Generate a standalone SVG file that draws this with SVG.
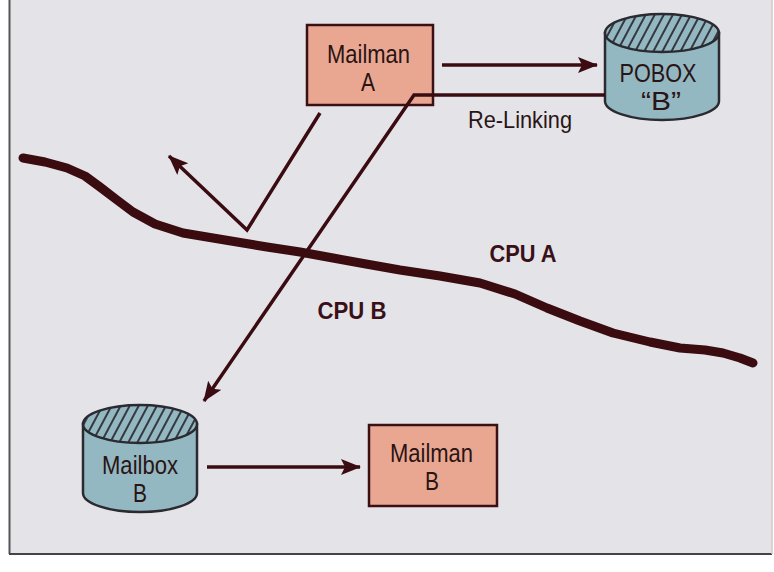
<svg xmlns="http://www.w3.org/2000/svg" width="774" height="572" viewBox="0 0 774 572">
<defs>
<style>
.lbl{font-family:"Liberation Sans",Arial,sans-serif;font-size:25px;fill:#2a1414;text-anchor:middle}
.cpu{font-family:"Liberation Sans",Arial,sans-serif;font-size:23px;font-weight:bold;fill:#3a1018;text-anchor:middle}
.box{fill:#e9a792;stroke:#3a1014;stroke-width:2.5}
.cyl{fill:#93b8c2;stroke:#2a2a30;stroke-width:2.5}
.hat{fill:url(#hatch);stroke:#2a2a30;stroke-width:2.5}
.con{fill:none;stroke:#3a0c12;stroke-width:3.5;stroke-linejoin:miter}
</style>
<pattern id="hatch" patternUnits="userSpaceOnUse" width="8" height="8" patternTransform="rotate(28)">
<rect width="8" height="8" fill="#93b8c2"/>
<line x1="1" y1="0" x2="1" y2="8" stroke="#2a2a30" stroke-width="1.8"/>
</pattern>
<marker id="ah" markerUnits="userSpaceOnUse" markerWidth="22" markerHeight="18" refX="19" refY="8" orient="auto">
<path d="M0,0 L20,8 L0,16 L4,8 Z" fill="#3a0c12"/>
</marker>
</defs>
<rect x="0" y="0" width="774" height="572" fill="#ffffff"/>
<rect x="9" y="0" width="763" height="554" fill="#e3e3e8"/>
<line x1="9.5" y1="0" x2="9.5" y2="554" stroke="#555" stroke-width="2"/>
<line x1="9" y1="554" x2="772" y2="554" stroke="#444" stroke-width="2"/>
<line x1="772" y1="0" x2="772" y2="554" stroke="#d8c4c4" stroke-width="1.5"/>

<g id="divider">
<polyline points="23,158 45,162 67,168 85,176 100,187 117,200 133,212 155,224 183,233 225,240 267,247 300,252 333,258 366,264 400,270 440,276 480,283 515,294 547,308 580,321 613,333 650,342 680,348 705,350 723,353 740,358 753,363" fill="none" stroke="#3a0c10" stroke-width="9" stroke-linecap="round" stroke-linejoin="round"/>
</g>

<g id="mailmanA">
<rect class="box" x="307" y="25" width="126" height="80"/>
<text class="lbl" x="368.5" y="63" textLength="83" lengthAdjust="spacingAndGlyphs">Mailman</text>
<text class="lbl" x="368" y="91" textLength="14" lengthAdjust="spacingAndGlyphs">A</text>
</g>

<g id="poboxB">
<path class="cyl" d="M605,33 L605,101 A57,19 0 0 0 719,101 L719,33 Z"/>
<ellipse class="hat" cx="662" cy="33" rx="57" ry="19"/>
<text class="lbl" x="658" y="82" textLength="77" lengthAdjust="spacingAndGlyphs">POBOX</text>
<text class="lbl" x="661" y="110" textLength="40" lengthAdjust="spacingAndGlyphs">“B”</text>
</g>

<text class="lbl" x="520" y="128" textLength="104" lengthAdjust="spacingAndGlyphs" style="font-size:24px">Re-Linking</text>

<g id="cpuLabels">
<text class="cpu" x="523" y="262" textLength="67" lengthAdjust="spacingAndGlyphs">CPU  A</text>
<text class="cpu" x="352" y="319" textLength="69" lengthAdjust="spacingAndGlyphs">CPU  B</text>
</g>

<g id="mailboxB">
<path class="cyl" d="M83,424 L83,493 A57,19 0 0 0 197,493 L197,424 Z"/>
<ellipse class="hat" cx="140" cy="424" rx="57" ry="19"/>
<text class="lbl" x="140" y="474" textLength="76" lengthAdjust="spacingAndGlyphs">Mailbox</text>
<text class="lbl" x="140" y="502" textLength="14" lengthAdjust="spacingAndGlyphs">B</text>
</g>

<g id="mailmanB">
<rect class="box" x="369" y="425" width="128" height="81"/>
<text class="lbl" x="431.5" y="462" textLength="83" lengthAdjust="spacingAndGlyphs">Mailman</text>
<text class="lbl" x="432" y="490" textLength="14" lengthAdjust="spacingAndGlyphs">B</text>
</g>

<g id="connectors">
<path class="con" d="M442,65 L597,65" marker-end="url(#ah)"/>
<path class="con" d="M605,95 L414,95 L204,401" marker-end="url(#ah)"/>
<path class="con" d="M320,113 L247,230 L169,156" marker-end="url(#ah)"/>
<path class="con" d="M207,467 L360,467" marker-end="url(#ah)"/>
</g>
</svg>
